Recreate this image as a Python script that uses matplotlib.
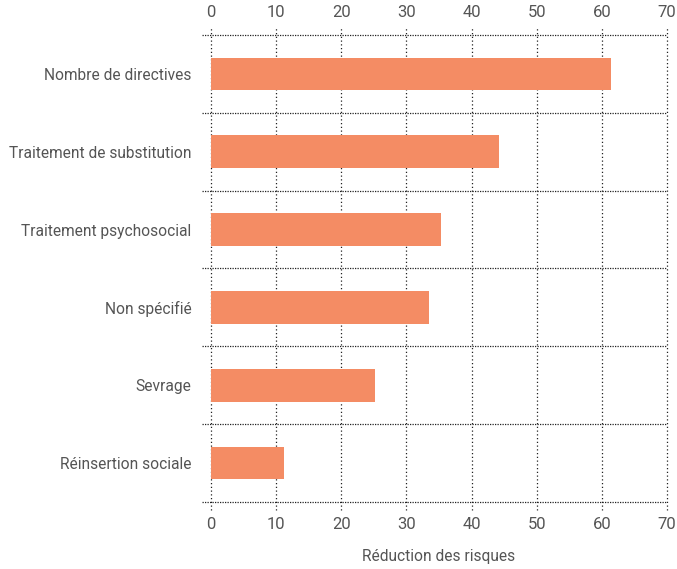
import matplotlib
matplotlib.use("Agg")
import matplotlib.pyplot as plt
import numpy as np

categories = ["Nombre de directives", "Traitement de substitution", "Traitement psychosocial",
              "Non spécifié", "Sevrage", "Réinsertion sociale"]
values = [61.4, 44.2, 35.3, 33.5, 25.2, 11.2]
xticks = [0, 10, 20, 30, 40, 50, 60, 70]

plt.rcParams['font.family'] = ['Roboto', 'DejaVu Sans']
text_color = "#555555"

fig = plt.figure(figsize=(6.77, 5.69), dpi=100)
ax = fig.add_axes([211/677, 1-502/569, (667-211)/677, (502-35)/569])

n = len(categories)
ypos = np.arange(n)
ax.barh(ypos, values, height=0.42, color="#F48C64", zorder=3)
ax.set_ylim(n-0.5, -0.5)
ax.set_xlim(0, 70)

for s in ax.spines.values():
    s.set_visible(False)

ax.set_xticks(xticks)
ax.tick_params(axis='x', which='both', length=0, top=True, labeltop=True, bottom=True,
               labelbottom=True, labelsize=12, labelcolor=text_color, pad=11)
ax.set_yticks(ypos)
ax.set_yticklabels(categories)
ax.tick_params(axis='y', length=0, labelsize=11.2, labelcolor=text_color, pad=14)

# dotted grid lines extending slightly beyond axes
ext_y = 8/467
for xv in xticks:
    ax.plot([xv, xv], [-ext_y, 1+ext_y], transform=ax.get_xaxis_transform(),
            ls=(0, (1, 2)), lw=0.9, color="#222222", clip_on=False, zorder=1)
ext_x = 9/456
for b in np.arange(n+1) - 0.5:
    ax.plot([-ext_x, 1.0], [b, b], transform=ax.get_yaxis_transform(),
            ls=(0, (1, 1)), lw=0.9, color="#222222", clip_on=False, zorder=1)

ax.set_xlabel("Réduction des risques", fontsize=11.2, color=text_color, labelpad=12)

fig.savefig("out.png", dpi=100)
